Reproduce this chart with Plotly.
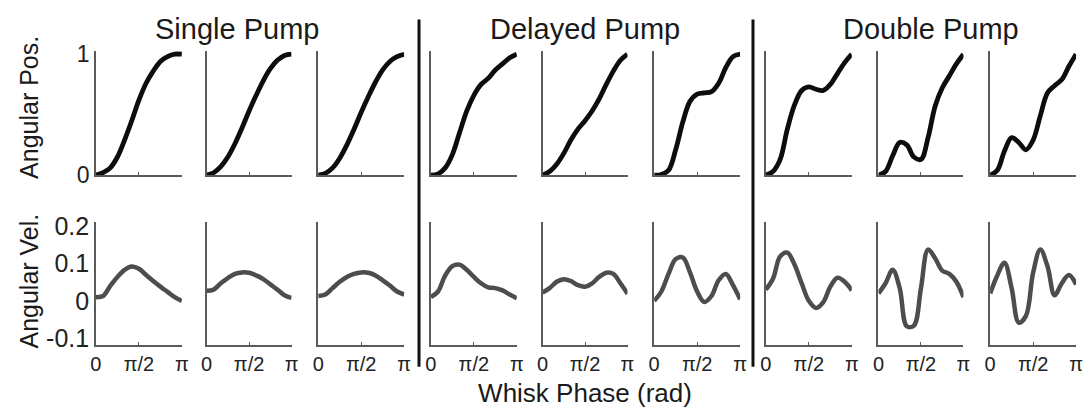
import numpy as np
import plotly.graph_objects as go

# Whisk phase sample points (fractions of pi)
phase_frac = [0, 1/12, 2/12, 3/12, 4/12, 5/12, 6/12, 7/12, 8/12, 9/12, 10/12, 11/12, 1]
phase = [f * np.pi for f in phase_frac]

group_titles = ["Single Pump", "Delayed Pump", "Double Pump"]
x_title = "Whisk Phase (rad)"

# Angular position (normalised) per panel
pos_single_1 = [0, 0.02, 0.06, 0.15, 0.29, 0.45, 0.62, 0.76, 0.86, 0.94, 0.98, 1.0, 1.0]
pos_single_2 = [0, 0.02, 0.07, 0.15, 0.26, 0.39, 0.53, 0.66, 0.78, 0.88, 0.95, 0.99, 1.0]
pos_single_3 = [0, 0.015, 0.06, 0.14, 0.25, 0.38, 0.52, 0.65, 0.77, 0.87, 0.94, 0.98, 1.0]
pos_delayed_1 = [0, 0.01, 0.06, 0.17, 0.35, 0.53, 0.66, 0.75, 0.80, 0.87, 0.92, 0.97, 1.0]
pos_delayed_2 = [0, 0.03, 0.09, 0.18, 0.29, 0.38, 0.45, 0.53, 0.63, 0.75, 0.86, 0.95, 1.0]
pos_delayed_3 = [0, 0.005, 0.04, 0.21, 0.44, 0.61, 0.67, 0.68, 0.69, 0.76, 0.89, 0.98, 1.0]
pos_double_1 = [0, 0.03, 0.13, 0.38, 0.58, 0.70, 0.73, 0.71, 0.70, 0.75, 0.84, 0.93, 1.0]
pos_double_2 = [0, 0.03, 0.16, 0.27, 0.25, 0.15, 0.13, 0.31, 0.57, 0.72, 0.82, 0.92, 1.0]
pos_double_3 = [0, 0.04, 0.20, 0.31, 0.27, 0.21, 0.29, 0.49, 0.68, 0.74, 0.79, 0.90, 1.0]

# Angular velocity per panel
vel_single_1 = [0.01, 0.013, 0.04, 0.064, 0.083, 0.092, 0.086, 0.069, 0.053, 0.038, 0.024, 0.01, 0.0]
vel_single_2 = [0.027, 0.03, 0.047, 0.061, 0.072, 0.076, 0.075, 0.068, 0.058, 0.044, 0.03, 0.015, 0.008]
vel_single_3 = [0.013, 0.017, 0.034, 0.051, 0.064, 0.072, 0.076, 0.075, 0.068, 0.055, 0.041, 0.025, 0.017]
vel_delayed_1 = [0.01, 0.025, 0.068, 0.093, 0.097, 0.083, 0.064, 0.047, 0.036, 0.034, 0.028, 0.017, 0.007]
vel_delayed_2 = [0.022, 0.034, 0.051, 0.058, 0.053, 0.042, 0.038, 0.047, 0.064, 0.075, 0.072, 0.047, 0.019]
vel_delayed_3 = [0.0, 0.025, 0.072, 0.112, 0.116, 0.076, 0.025, -0.003, 0.013, 0.055, 0.072, 0.042, 0.004]
vel_double_1 = [0.03, 0.059, 0.119, 0.129, 0.097, 0.047, 0.0, -0.019, -0.004, 0.038, 0.062, 0.051, 0.028]
vel_double_2 = [0.02, 0.047, 0.083, 0.034, -0.068, -0.066, 0.034, 0.137, 0.114, 0.081, 0.072, 0.051, 0.01]
vel_double_3 = [0.02, 0.068, 0.102, 0.034, -0.058, -0.04, 0.075, 0.137, 0.093, 0.015, 0.047, 0.069, 0.044]

positions = [pos_single_1, pos_single_2, pos_single_3,
             pos_delayed_1, pos_delayed_2, pos_delayed_3,
             pos_double_1, pos_double_2, pos_double_3]
velocities = [vel_single_1, vel_single_2, vel_single_3,
              vel_delayed_1, vel_delayed_2, vel_delayed_3,
              vel_double_1, vel_double_2, vel_double_3]

x_tickvals = [0, np.pi / 2, np.pi]
x_ticktext = ["0", "π/2", "π"]
pos_ticks = [0, 1]
vel_ticks = [-0.1, 0, 0.1, 0.2]
vel_ticktext = ["-0.1", "0", "0.1", "0.2"]

W, H = 1091, 408
FONT = "Arial, Liberation Sans, Helvetica, sans-serif"
panel_px = [(91, 178), (203, 289), (316, 403), (430, 517), (543, 629),
            (656, 743), (769, 856), (883, 969), (996, 1083)]
top_dom = [1 - 175 / H, 1 - 43 / H]
bot_dom = [1 - 355 / H, 1 - 225 / H]

fig = go.Figure()
layout = {}
axis_color = "#5a5a5a"
for i in range(9):
    x0, x1 = panel_px[i]
    dom = [x0 / W, x1 / W]
    ta = 2 * i + 1
    ba = 2 * i + 2
    xt = "x" if ta == 1 else f"x{ta}"
    yt = "y" if ta == 1 else f"y{ta}"
    xb = f"x{ba}"
    yb = f"y{ba}"
    fig.add_trace(go.Scatter(x=phase, y=positions[i], xaxis=xt, yaxis=yt, mode="lines",
                             line=dict(color="#0d0d0d", width=4.8, shape="spline", smoothing=1.0),
                             showlegend=False, hoverinfo="skip"))
    fig.add_trace(go.Scatter(x=phase, y=velocities[i], xaxis=xb, yaxis=yb, mode="lines",
                             line=dict(color="#4d4d4d", width=4.5, shape="spline", smoothing=1.0),
                             showlegend=False, hoverinfo="skip"))
    common_x = dict(domain=dom, range=[0, np.pi], showgrid=False, zeroline=False,
                    showline=True, linecolor=axis_color, linewidth=1.5,
                    ticks="inside", ticklen=3, tickcolor=axis_color,
                    tickvals=x_tickvals, fixedrange=True)
    layout["xaxis" if ta == 1 else f"xaxis{ta}"] = dict(
        **common_x, anchor=yt, showticklabels=False)
    bx = dict(**common_x, anchor=yb, showticklabels=True, ticktext=x_ticktext,
              tickfont=dict(family=FONT, size=20, color="#222"))
    if i == 4:
        bx["title"] = dict(text=x_title, standoff=11,
                           font=dict(family=FONT, size=26, color="#1a1a1a"))
    layout[f"xaxis{ba}"] = bx
    layout["yaxis" if ta == 1 else f"yaxis{ta}"] = dict(
        domain=top_dom, anchor=xt, range=[0, 1.03], showgrid=False, zeroline=False,
        showline=True, linecolor=axis_color, linewidth=1.5, ticks="",
        tickvals=pos_ticks, showticklabels=(i == 0),
        tickfont=dict(family=FONT, size=23, color="#222"), fixedrange=True)
    layout[f"yaxis{ba}"] = dict(
        domain=bot_dom, anchor=xb, range=[-0.118, 0.21], showgrid=False, zeroline=False,
        showline=True, linecolor=axis_color, linewidth=1.5, ticks="",
        tickvals=vel_ticks, ticktext=vel_ticktext, showticklabels=(i == 0),
        tickfont=dict(family=FONT, size=25, color="#222"), fixedrange=True)

annotations = []
title_x = [234, 586, 936]
for t, xc in zip(group_titles, title_x):
    annotations.append(dict(text=t, x=xc / W, y=1 - 20 / H, xref="paper", yref="paper",
                            showarrow=False, xanchor="center", yanchor="middle",
                            font=dict(family=FONT, size=29, color="#1a1a1a")))
annotations.append(dict(text="Angular Pos.", x=23 / W, y=1 - 103 / H, xref="paper", yref="paper",
                        showarrow=False, textangle=-90, xanchor="center", yanchor="middle",
                        font=dict(family=FONT, size=25, color="#1a1a1a")))
annotations.append(dict(text="Angular Vel.", x=23 / W, y=1 - 287 / H, xref="paper", yref="paper",
                        showarrow=False, textangle=-90, xanchor="center", yanchor="middle",
                        font=dict(family=FONT, size=25, color="#1a1a1a")))

shapes = []
for sx in [418, 756]:
    shapes.append(dict(type="line", xref="paper", yref="paper", x0=sx / W, x1=sx / W,
                       y0=1 - 378 / H, y1=1 - 10 / H, line=dict(color="#111", width=3)))

fig.update_layout(width=W, height=H, margin=dict(l=0, r=0, t=0, b=0),
                  paper_bgcolor="white", plot_bgcolor="white",
                  annotations=annotations, shapes=shapes, **layout)

fig.write_html("out.html", config={"displayModeBar": False},
               post_script="document.body.style.margin='0px';document.body.style.padding='0px';")
